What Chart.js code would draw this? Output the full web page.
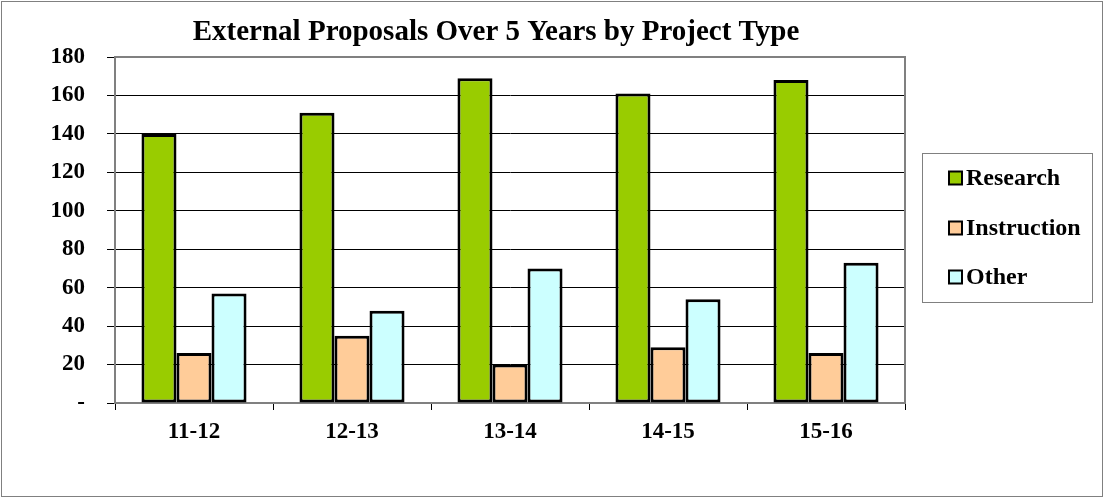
<!DOCTYPE html>
<html>
<head>
<meta charset="utf-8">
<script src="https://cdn.jsdelivr.net/npm/chart.js@4/dist/chart.umd.min.js"></script>
<style>
  html, body { margin: 0; padding: 0; background: #fff; }
  #wrap { width: 1104px; height: 498px; position: relative; }
</style>
</head>
<body>
<div id="wrap"><canvas id="proposalsChart"></canvas></div>
<script>
// Chart data
const years = ['11-12', '12-13', '13-14', '14-15', '15-16'];
const research = [140, 151, 169, 161, 168];
const instruction = [26, 35, 20, 29, 26];
const other = [57, 48, 70, 54, 73];
const yTicks = [0, 20, 40, 60, 80, 100, 120, 140, 160, 180];

const serif = "'Liberation Serif', 'Times New Roman', serif";
const frameGray = '#808080';

// Frame, outer border and boxed legend (Excel style)
const excelFrame = {
    id: 'excelFrame',
    afterDraw(chart) {
        const ctx = chart.ctx;
        const a = chart.chartArea;
        ctx.save();
        // top and right edge of the plot area
        ctx.strokeStyle = frameGray;
        ctx.lineWidth = 2;
        ctx.beginPath();
        ctx.moveTo(a.left, a.top);
        ctx.lineTo(a.right, a.top);
        ctx.lineTo(a.right, a.bottom);
        ctx.stroke();

        // outer chart border
        ctx.lineWidth = 1;
        ctx.strokeRect(1.5, 1.5, chart.width - 3, chart.height - 3);

        // legend box
        ctx.strokeRect(922.5, 153.5, 170, 149);
        const rowsY = [178, 228, 277];
        ctx.font = 'bold 24px ' + serif;
        ctx.textBaseline = 'middle';
        chart.data.datasets.forEach((ds, i) => {
            const y = rowsY[i];
            ctx.fillStyle = ds.backgroundColor;
            ctx.fillRect(949, y - 6.5, 13, 13);
            ctx.strokeStyle = '#000';
            ctx.lineWidth = 2;
            ctx.strokeRect(949, y - 6.5, 13, 13);
            ctx.fillStyle = '#000';
            ctx.fillText(ds.label, 966, y + 1);
        });
        ctx.restore();
    }
};

const ctx = document.getElementById('proposalsChart').getContext('2d');
new Chart(ctx, {
    type: 'bar',
    data: {
        labels: years,
        datasets: [
            { label: 'Research', data: research, backgroundColor: '#99CC00' },
            { label: 'Instruction', data: instruction, backgroundColor: '#FFCC99' },
            { label: 'Other', data: other, backgroundColor: '#CCFFFF' }
        ].map(ds => Object.assign(ds, {
            borderColor: '#000',
            borderWidth: 3,
            borderSkipped: false,
            inflateAmount: 0,
            categoryPercentage: 0.665,
            barPercentage: 1
        }))
    },
    options: {
        responsive: true,
        maintainAspectRatio: false,
        animation: false,
        layout: {
            padding: { left: 0, right: 112, top: 0, bottom: 50 }
        },
        scales: {
            x: {
                grid: {
                    offset: true,
                    drawOnChartArea: false,
                    drawTicks: true,
                    tickLength: 7,
                    color: '#000'
                },
                border: { color: frameGray, width: 2 },
                ticks: {
                    color: '#000',
                    padding: 8,
                    font: { family: serif, size: 23, weight: 'bold' }
                },
                afterFit(scale) { scale.height = 45; }
            },
            y: {
                min: 0,
                max: 180,
                afterBuildTicks(scale) {
                    scale.ticks = yTicks.map(v => ({ value: v }));
                },
                grid: {
                    color: '#000',
                    lineWidth: 1,
                    tickLength: 8,
                    drawTicks: true
                },
                border: { color: frameGray, width: 2 },
                ticks: {
                    color: '#000',
                    padding: 22,
                    font: { family: serif, size: 23, weight: 'bold' },
                    callback: v => v === 0 ? '-' : v
                },
                afterFit(scale) { scale.width = 115; }
            },
            // empty right-hand spacer so the plot ends where the legend begins
            spacer: {
                type: 'linear',
                position: 'right',
                grid: { drawOnChartArea: false, drawTicks: false },
                border: { display: false },
                ticks: { display: false },
                afterFit(scale) { scale.width = 87; }
            }
        },
        plugins: {
            legend: { display: false },
            tooltip: { enabled: false },
            title: {
                display: true,
                text: 'External Proposals Over 5 Years by Project Type',
                color: '#000',
                font: { family: serif, size: 29, weight: 'bold', lineHeight: 1.2 },
                padding: { top: 15, bottom: 7.2 }
            }
        }
    },
    plugins: [excelFrame]
});
</script>
</body>
</html>
